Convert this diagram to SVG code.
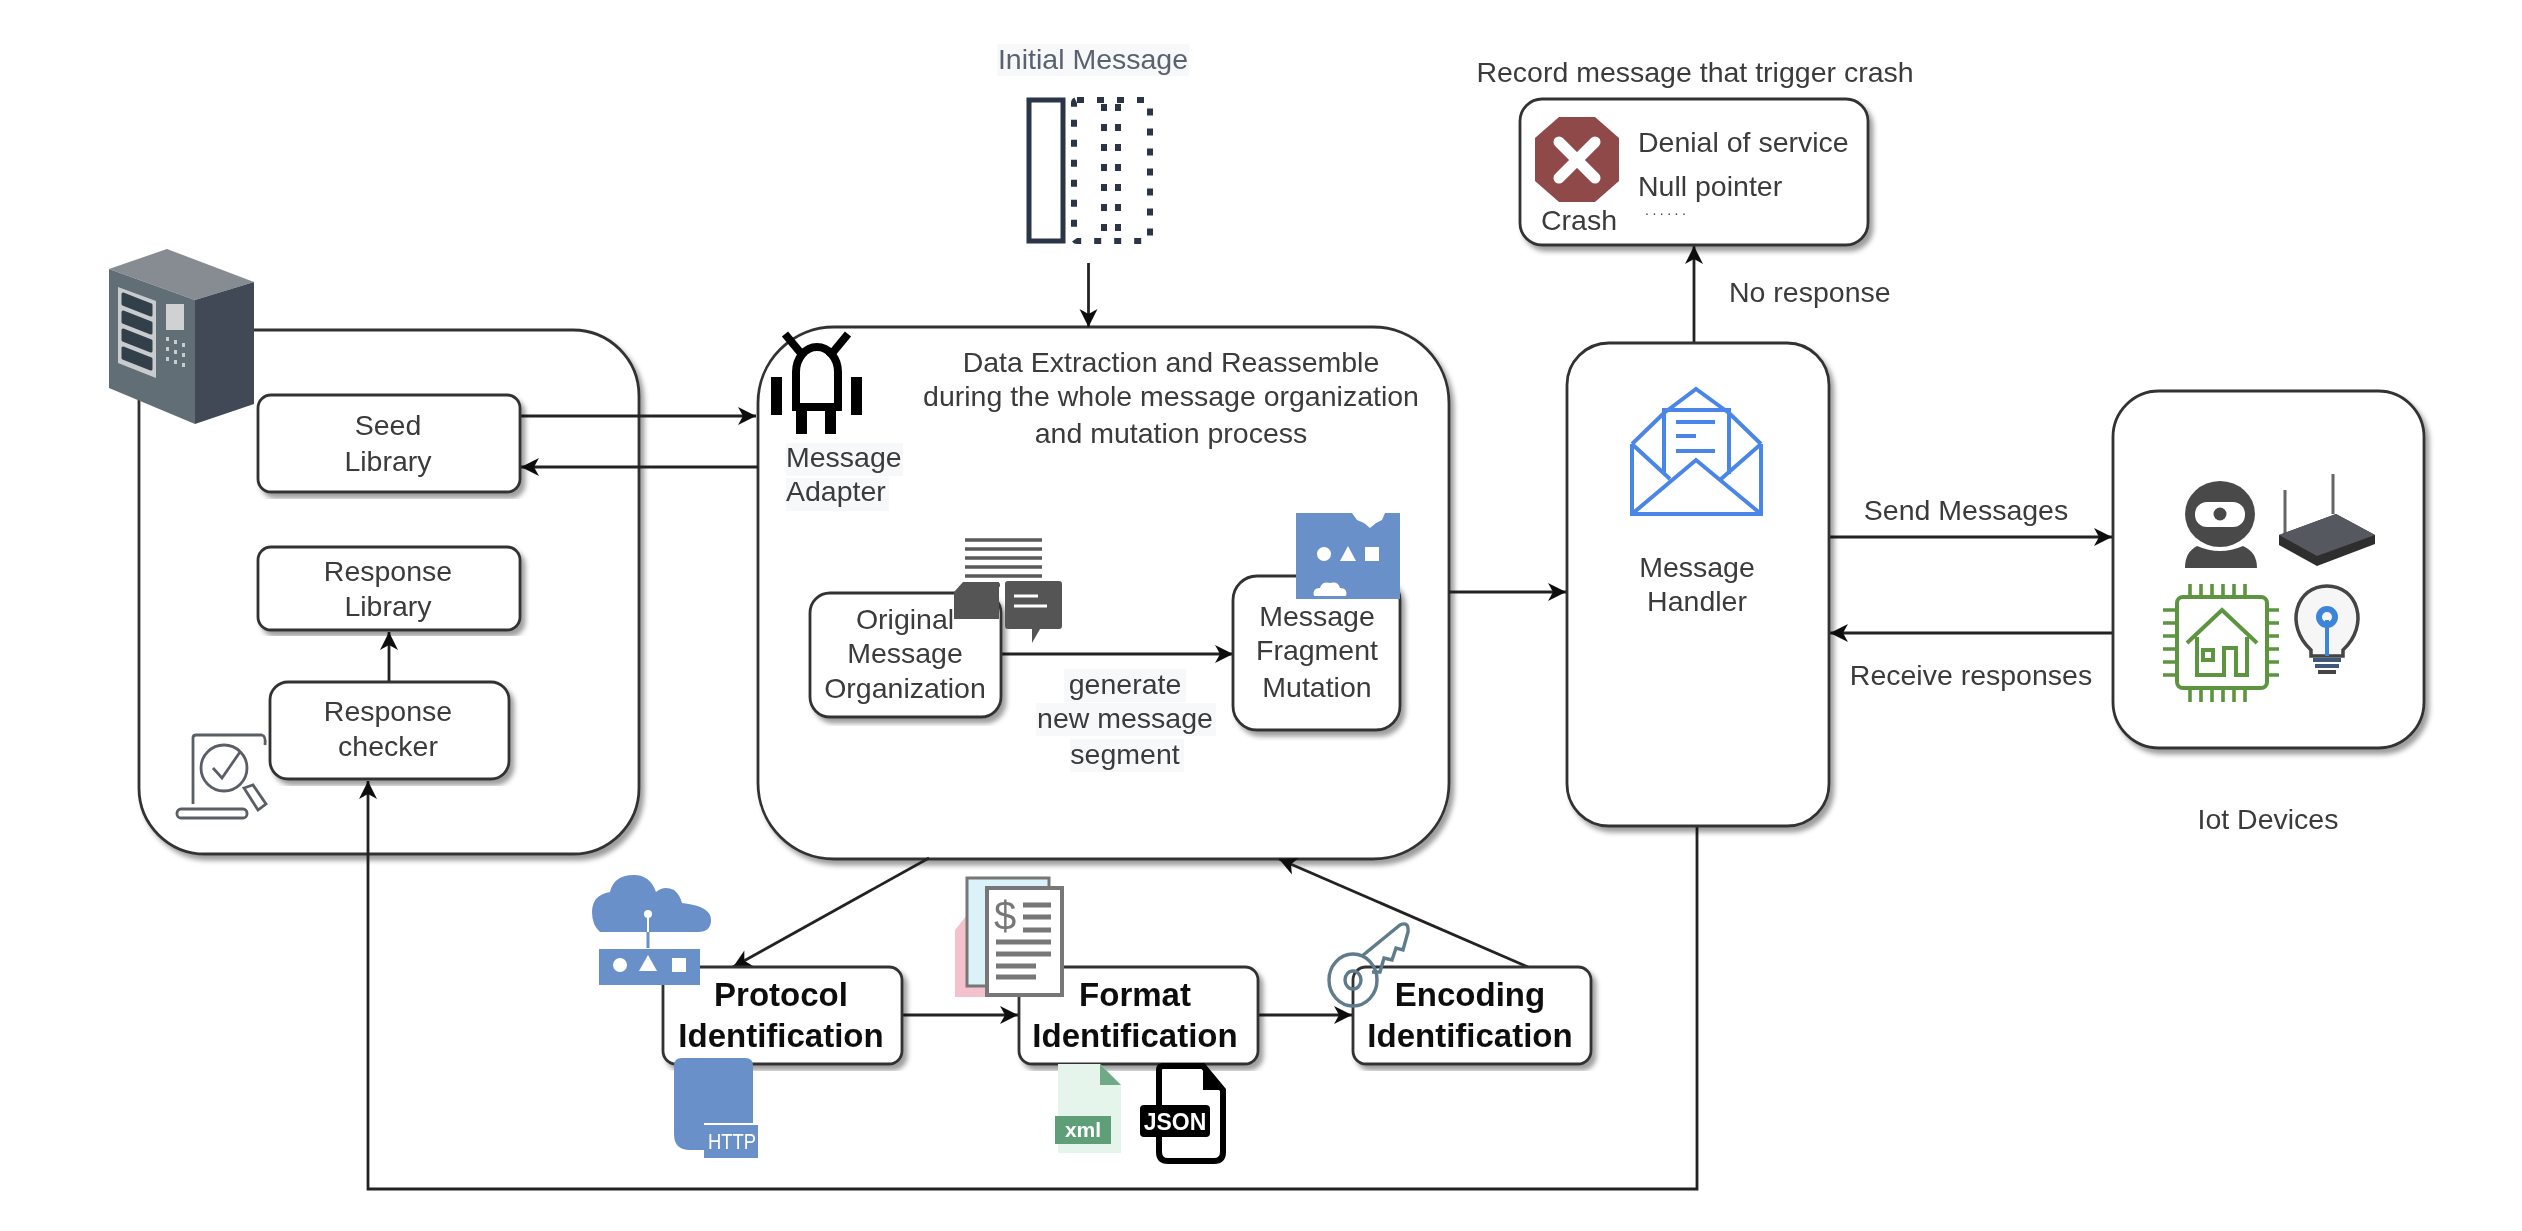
<svg xmlns="http://www.w3.org/2000/svg" width="2522" height="1231" viewBox="0 0 2522 1231">
<style>
text{font-family:"Liberation Sans",Arial,sans-serif;font-size:28.5px;fill:#3a3a3a;text-anchor:middle}
.l{text-anchor:start}
.b{font-size:33px;font-weight:bold;fill:#111}
.box{fill:#fff;stroke:#333;stroke-width:2.8;filter:url(#sh)}
.c{fill:none;stroke:#222;stroke-width:2.8}
.a{marker-end:url(#ah)}
.bg{fill:#f6f8fa}
.blue{fill:#6a90c9}
.w{fill:#fff}
.env{fill:none;stroke:#4a86e8;stroke-width:4}
.chip{fill:none;stroke:#5c9440;stroke-width:4}
.pin{fill:none;stroke:#5c9440;stroke-width:3.6}
.cg{fill:none;stroke:#5a5f66;stroke-width:2.8}
.kg{fill:none;stroke:#5e7b8c;stroke-width:3.4}
.dl{fill:none;stroke:#777;stroke-width:5}
</style>
<defs>
<filter id="sh" x="-5%" y="-5%" width="112%" height="112%"><feDropShadow dx="4" dy="5" stdDeviation="2.5" flood-color="#000" flood-opacity=".38"/></filter>
<filter id="soft" x="0" y="0" width="100%" height="100%" filterUnits="userSpaceOnUse" primitiveUnits="userSpaceOnUse"><feGaussianBlur stdDeviation="0.7"/></filter>
<marker id="ah" markerUnits="userSpaceOnUse" markerWidth="24" markerHeight="24" refX="20" refY="12" orient="auto"><path d="M2,3 L20,12 L2,21 L7,12 Z" fill="#111"/></marker>
</defs>
<rect width="2522" height="1231" fill="#fff"/>
<g filter="url(#soft)">
<g id="server-group">
<rect class="box" x="139" y="330" width="500" height="524" rx="66"/>
</g>
<g id="adapter">
<rect class="box" x="758" y="327" width="691" height="532" rx="76"/>
<text x="1171" y="372">Data Extraction and Reassemble</text>
<text x="1171" y="406">during the whole message organization</text>
<text x="1171" y="443">and mutation process</text>
<rect class="bg" x="786" y="443" width="117" height="33"/><rect class="bg" x="786" y="478" width="103" height="33"/>
<text class="l" x="786" y="467">Message</text>
<text class="l" x="786" y="501">Adapter</text>
<g fill="#000">
<path d="M785,334 L804,357 M848,334 L829,357" stroke="#000" stroke-width="8" fill="none"/>
<path d="M796,407 V372 A21,25 0 0 1 838,372 V407 Z" fill="none" stroke="#000" stroke-width="8"/>
<rect x="771" y="377" width="11" height="38"/><rect x="851" y="377" width="11" height="38"/>
<rect x="796" y="407" width="11" height="27"/><rect x="825" y="407" width="11" height="27"/>
</g>
</g>
<g id="connectors">
<path class="c a" d="M1088.500,263 V327"/>
<path class="c a" d="M520,416 H756"/>
<path class="c a" d="M758,467 H521"/>
<path class="c a" d="M389,682 V632"/>
<path class="c a" d="M1697,826 V1189 H368 V781"/>
<path class="c a" d="M1001,654 H1233"/>
<path class="c a" d="M1449,592 H1566"/>
<path class="c a" d="M1694,343 V246"/>
<path class="c a" d="M1829,537 H2112"/>
<path class="c a" d="M2113,633 H1830"/>
<path class="c a" d="M929,858 L733,967"/>
<path class="c a" d="M902,1015 H1018"/>
<path class="c a" d="M1258,1015 H1352"/>
<path class="c a" d="M1528,967 L1279,859"/>
</g>
<g id="server-icon">
<path d="M109,269 L167,249 L254,282 L195,300 Z" fill="#868c91"/>
<path d="M109,269 L195,300 V424 L109,388 Z" fill="#626e76"/>
<path d="M195,300 L254,282 V404 L195,424 Z" fill="#3f4a54"/>
<path d="M118,287 L156,301 V378 L118,363 Z" fill="#c8ccce"/>
<g fill="#333f4a" stroke="#333f4a" stroke-width="3" stroke-linejoin="round"><path d="M123,294 L151,305 V315 L123,304 Z"/><path d="M123,312 L151,323 V333 L123,322 Z"/><path d="M123,330 L151,341 V351 L123,340 Z"/><path d="M123,348 L151,359 V369 L123,358 Z"/></g>
<rect x="166" y="304" width="18" height="26" fill="#cfd1d2"/>
<g fill="#c8ccce"><rect x="166" y="337" width="3" height="4"/><rect x="174" y="340" width="3" height="4"/><rect x="182" y="343" width="3" height="4"/><rect x="166" y="347" width="3" height="4"/><rect x="174" y="350" width="3" height="4"/><rect x="182" y="353" width="3" height="4"/><rect x="166" y="357" width="3" height="4"/><rect x="174" y="360" width="3" height="4"/><rect x="182" y="363" width="3" height="4"/></g>
</g>
<g id="seed-library"><rect class="box" x="258" y="395" width="262" height="97" rx="13"/><text x="388" y="435">Seed</text><text x="388" y="471">Library</text></g>
<g id="response-library"><rect class="box" x="258" y="547" width="262" height="83" rx="13"/><text x="388" y="581">Response</text><text x="388" y="616">Library</text></g>
<g id="response-checker"><rect class="box" x="270" y="682" width="239" height="97" rx="18"/><text x="388" y="721">Response</text><text x="388" y="756">checker</text>
<path class="cg" d="M193,804 V738 Q193,735 196,735 H262 M262,735 Q266,736 265,745"/>
<circle class="cg" cx="224" cy="768" r="23"/>
<path class="cg" d="M213,768 L222,778 L240,752"/>
<path class="cg" d="M244,788 L253,785 L266,804 L258,810 Z"/>
<rect class="cg" x="177" y="809" width="70" height="9" rx="4"/>
</g>

<g id="initial-message">
<rect class="bg" x="997" y="44" width="192" height="32"/>
<text x="1093" y="69" style="fill:#5a6270">Initial Message</text>
<rect x="1029" y="100" width="34" height="141" fill="none" stroke="#2a3547" stroke-width="5"/>
<g fill="none" stroke="#2a3547" stroke-width="6" stroke-dasharray="7 13"><rect x="1074" y="100" width="76" height="141" rx="3"/><path d="M1104,104 V241 M1118,104 V241"/></g>
</g>

<g id="original-message-organization"><rect class="box" x="810" y="593" width="191" height="124" rx="20"/><text x="905" y="629">Original</text><text x="905" y="663">Message</text><text x="905" y="698">Organization</text>
<path d="M965,540 H1042 M965,549 H1042 M965,558 H1042 M965,567 H1042 M965,576 H1042 M965,585 H1000" stroke="#5a5a5a" stroke-width="3.500" fill="none"/>
<path d="M954,592 L963,582 H999 V619 H954 Z" fill="#555"/>
<path d="M1008,581 H1059 Q1062,581 1062,584 V626 Q1062,629 1059,629 H1040 L1032,643 V629 H1008 Q1005,629 1005,626 V584 Q1005,581 1008,581 Z" fill="#555"/>
<path d="M1014,596 H1038 M1014,606 H1047" stroke="#fff" stroke-width="3" fill="none"/>
</g>
<g id="generate-label"><rect class="bg" x="1064" y="669" width="122" height="33"/><rect class="bg" x="1036" y="703" width="180" height="33"/><rect class="bg" x="1070" y="739" width="114" height="33"/><text x="1125" y="694">generate</text><text x="1125" y="728">new message</text><text x="1125" y="764">segment</text></g>
<g id="message-fragment-mutation"><rect class="box" x="1233" y="576" width="167" height="154" rx="24"/><text x="1317" y="626">Message</text><text x="1317" y="660">Fragment</text><text x="1317" y="697">Mutation</text>
<rect class="blue" x="1296" y="513" width="104" height="86"/>
<circle class="w" cx="1324" cy="554" r="7"/><path class="w" d="M1348,546 L1356,561 H1340 Z"/><rect class="w" x="1365" y="547" width="14" height="14"/>
<path class="w" d="M1352,513 H1385 L1382,520 L1376,523 L1370,528 L1364,523 L1357,520 Z"/>
<path class="w" d="M1314,596 Q1312,588 1320,588 Q1322,581 1330,583 Q1338,581 1340,588 Q1348,588 1346,596 Z"/>
</g>

<g id="message-handler"><rect class="box" x="1567" y="343" width="262" height="483" rx="42"/><text x="1697" y="577">Message</text><text x="1697" y="611">Handler</text>
<path class="env" d="M1632,444 V514 H1761 V444 M1664,413 L1696,389 L1729,413 M1632,444 L1664,413 M1729,413 L1761,444 M1632,514 L1696,460 L1761,514 M1632,444 L1670,479 M1761,444 L1721,479"/>
<path class="env" d="M1664,474 V410 H1729 V474"/>
<path class="env" d="M1676,422 H1715 M1676,436 H1696 M1676,451 H1715"/>
</g>
<g id="crash"><rect class="box" x="1520" y="99" width="348" height="146" rx="22"/>
<path d="M1559,117 H1595 L1619,138 V181 L1595,202 H1559 L1535,181 V138 Z" fill="#8f4a4a"/>
<path d="M1559,142 L1595,178 M1595,142 L1559,178" stroke="#fff" stroke-width="11" stroke-linecap="round"/>
<text x="1579" y="230">Crash</text><text class="l" x="1638" y="152">Denial of service</text><text class="l" x="1638" y="196">Null pointer</text><text class="l" x="1645" y="215" style="font-size:14px;letter-spacing:3.5px">......</text>
</g>
<text x="1695" y="82">Record message that trigger crash</text>
<text class="l" x="1729" y="302">No response</text>
<text x="1966" y="520">Send Messages</text>
<text x="1971" y="685">Receive responses</text>
<g id="iot-devices"><rect class="box" x="2113" y="391" width="311" height="357" rx="46"/><text x="2268" y="829">Iot Devices</text>
<g id="webcam" fill="#4a4a4a"><ellipse cx="2220" cy="514" rx="35" ry="33"/><rect x="2195" y="502" width="50" height="25" rx="12" fill="#fff"/><circle cx="2220" cy="514" r="6.500"/><path d="M2197,546 Q2220,556 2243,546 Q2257,552 2257,568 H2185 Q2185,552 2197,546 Z"/></g>
<g id="router"><path d="M2285,490 V536 M2333,474 V514" stroke="#666" stroke-width="3"/><path d="M2279,535 L2336,514 L2375,535 V544 L2317,566 L2279,545 Z" fill="#2d2d2d"/><path d="M2279,535 L2336,514 L2375,535 L2317,556 Z" fill="#55595e"/></g>
<g id="chip"><rect class="chip" x="2177" y="597" width="90" height="91" rx="6"/>
<path class="pin" d="M2190,584 V597 M2201,584 V597 M2212,584 V597 M2223,584 V597 M2234,584 V597 M2245,584 V597 M2190,688 V702 M2201,688 V702 M2212,688 V702 M2223,688 V702 M2234,688 V702 M2245,688 V702 M2163,610 H2177 M2163,623 H2177 M2163,636 H2177 M2163,649 H2177 M2163,662 H2177 M2163,675 H2177 M2267,610 H2279 M2267,623 H2279 M2267,636 H2279 M2267,649 H2279 M2267,662 H2279 M2267,675 H2279"/>
<path class="chip" d="M2187,643 L2222,610 L2257,643 M2197,637 V675 H2224 V648 H2236 V675 H2247 V637"/><rect class="chip" x="2203" y="650" width="10" height="10" stroke-width="2.500"/></g>
<g id="bulb"><path d="M2311,650 C2284,625 2296,586 2327,586 C2358,586 2370,625 2343,650 V656 H2311 Z" fill="#f6f6f6" stroke="#444" stroke-width="3.500"/><path d="M2327,620 V656" stroke="#3d85d8" stroke-width="4"/><circle cx="2327" cy="617" r="8" fill="none" stroke="#3d85d8" stroke-width="6"/><path d="M2313,660 H2341 M2315,666 H2339" stroke="#3d5a7a" stroke-width="4"/><path d="M2318,672 H2336" stroke="#444" stroke-width="4"/></g>
</g>

<g id="protocol-identification"><rect class="box" x="663" y="967" width="239" height="97" rx="13"/><text class="b" x="781" y="1006">Protocol</text><text class="b" x="781" y="1047">Identification</text>
<path class="blue" d="M600,932 Q592,925 592,912 Q592,895 610,892 Q614,875 634,875 Q650,875 656,892 Q664,885 674,890 Q680,895 682,903 Q711,906 711,920 Q711,932 698,932 Z"/>
<circle class="w" cx="648" cy="914" r="4"/><path d="M648,914 V932" stroke="#fff" stroke-width="2"/><path d="M648,932 V948" stroke="#6a90c9" stroke-width="3"/>
<rect class="blue" x="599" y="949" width="101" height="36"/><ellipse class="w" cx="620" cy="965" rx="7" ry="7"/><path class="w" d="M648,955 L657,971 H639 Z"/><rect class="w" x="672" y="958" width="14" height="14"/>
<path class="blue" d="M682,1058 H745 Q753,1058 753,1066 V1123 H704 V1150 H690 Q674,1150 674,1134 V1066 Q674,1058 682,1058 Z"/>
<rect class="blue" x="704" y="1125" width="54" height="33"/>
<text x="732" y="1149" style="font-size:22px;fill:#fff" textLength="48" lengthAdjust="spacingAndGlyphs">HTTP</text>
</g>
<g id="format-identification"><rect class="box" x="1019" y="967" width="239" height="97" rx="13"/><text class="b" x="1135" y="1006">Format</text><text class="b" x="1135" y="1047">Identification</text>
<path d="M967,915 L955,930 V997 H990 V915 Z" fill="#f3c2cc"/>
<rect x="967" y="878" width="82" height="108" fill="#daf2f8" stroke="#777" stroke-width="3"/>
<rect x="987" y="888" width="75" height="107" fill="#fff" stroke="#777" stroke-width="4"/>
<text x="1005" y="930" style="font-size:40px;fill:#777">$</text>
<path class="dl" d="M1023,905 H1051 M1023,917 H1051 M1023,930 H1051 M996,942 H1051 M996,954 H1051 M996,966 H1036 M996,977 H1036"/>
<path d="M1058,1064 H1100 L1121,1085 V1153 H1058 Z" fill="#e6f5ec"/><path d="M1100,1064 L1121,1085 H1100 Z" fill="#6fa985"/>
<rect x="1055" y="1116" width="56" height="28" fill="#5f9f78"/><text x="1083" y="1137" style="font-size:21px;font-weight:bold;fill:#fff">xml</text>
<path d="M1163,1066 H1203 L1223,1090 V1152 Q1223,1161 1214,1161 H1168 Q1159,1161 1159,1152 V1070 Q1159,1066 1163,1066 Z" fill="#fff" stroke="#000" stroke-width="6"/>
<path d="M1203,1066 L1223,1090 H1203 Z" fill="#000"/>
<rect x="1140" y="1105" width="70" height="32" rx="4" fill="#000"/><text x="1175" y="1130" style="font-size:23px;font-weight:bold;fill:#fff">JSON</text>
</g>
<g id="encoding-identification"><rect class="box" x="1353" y="967" width="238" height="97" rx="13"/><text class="b" x="1470" y="1006">Encoding</text><text class="b" x="1470" y="1047">Identification</text>
<ellipse class="kg" cx="1353" cy="980" rx="24" ry="26"/><ellipse class="kg" cx="1353" cy="980" rx="8" ry="9"/>
<path class="kg" d="M1362,956 L1400,925 Q1409,921 1408,932 L1403,950 L1396,948 L1392,960 L1384,958 L1380,972 L1372,972"/>
</g>
</g>
</svg>
